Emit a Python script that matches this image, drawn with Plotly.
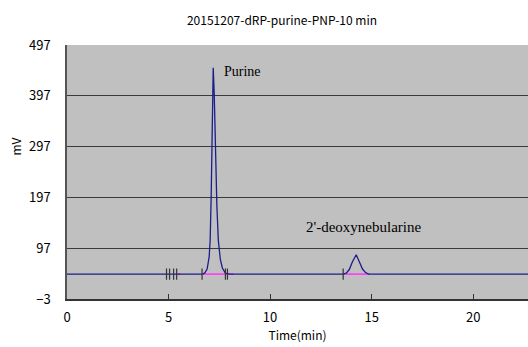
import plotly.graph_objects as go

# Chromatogram (time in min, signal in mV)
time_min = [0.0, 4.9, 5.5, 6.7, 6.8, 6.9, 7.0, 7.05, 7.1, 7.15, 7.2, 7.25, 7.3, 7.38, 7.45, 7.55, 7.65, 7.8, 8.0,
            13.6, 13.75, 13.9, 14.05, 14.24, 14.4, 14.55, 14.7, 14.85, 18.0, 22.7]
signal_mv = [46, 46, 46, 46, 49, 56, 80, 113, 200, 330, 452, 400, 290, 180, 113, 75, 58, 48, 46,
             46, 48, 55, 70, 84, 70, 56, 49, 46, 46, 46]

# Integration baselines (magenta)
base1_t = [6.7, 8.2]
base2_t = [13.6, 14.9]
base3_t = [5.45, 5.6]
base_level = [46, 46]

# Event tick marks on the baseline
event_t = [4.9, 5.05, 5.25, 5.4, 6.65, 7.8, 7.9, 13.6]
event_v = [46] * len(event_t)

y_ticks = [-3, 97, 197, 297, 397, 497]
x_ticks = [0, 5, 10, 15, 20]

fig = go.Figure()
for bt in (base1_t, base2_t, base3_t):
    fig.add_trace(go.Scatter(x=bt, y=base_level, mode="lines",
                             line=dict(color="#ff33ff", width=1.5), hoverinfo="skip"))
fig.add_trace(go.Scatter(x=time_min, y=signal_mv, mode="lines",
                         line=dict(color="#1c1c8c", width=1.3)))
fig.add_trace(go.Scatter(x=event_t, y=event_v, mode="markers",
                         marker=dict(symbol="line-ns", size=8,
                                     line=dict(color="#333333", width=1.2))))

fig.add_annotation(x=7.65, y=445, text="Purine", showarrow=False, xanchor="left", yanchor="middle",
                   font=dict(family="Liberation Serif", size=14, color="black"))
fig.add_annotation(x=11.65, y=138, text="2'-deoxynebularine", showarrow=False, xanchor="left",
                   yanchor="middle", font=dict(family="Liberation Serif", size=15, color="black"))
fig.add_annotation(x=(16 - 67) / (528 - 67), y=297, xref="paper", yref="y", text="mV", textangle=-90,
                   showarrow=False, xanchor="center", yanchor="middle",
                   font=dict(family="Noto Sans CJK JP", size=12, color="black"))

fig.update_layout(
    width=528, height=347,
    margin=dict(l=67, r=0, t=45, b=48),
    paper_bgcolor="white", plot_bgcolor="#c0c0c0",
    showlegend=False,
    title=dict(text="20151207-dRP-purine-PNP-10 min", x=282 / 528, xanchor="center",
               y=1 - 21 / 347, yanchor="middle",
               font=dict(family="Noto Sans CJK JP", size=12, color="black")),
    font=dict(family="Noto Sans CJK JP", size=12, color="black"),
)

fig.update_xaxes(range=[0, 22.7], tickvals=x_ticks, ticks="inside", ticklen=5, tickcolor="#333333",
                 showgrid=False, showline=True, linecolor="#333333", linewidth=1.5, zeroline=False,
                 ticklabelstandoff=6,
                 title=dict(text="Time(min)", standoff=2, font=dict(size=12)),
                 tickfont=dict(size=13))
fig.update_yaxes(range=[-3, 497], tickvals=y_ticks, showgrid=True, gridcolor="#3a3a3a", gridwidth=1.4,
                 showline=True, linecolor="#555555", linewidth=1.5, zeroline=False, ticks="",
                 ticklabelstandoff=12,
                 tickfont=dict(size=13))

fig.write_html("out.html")
